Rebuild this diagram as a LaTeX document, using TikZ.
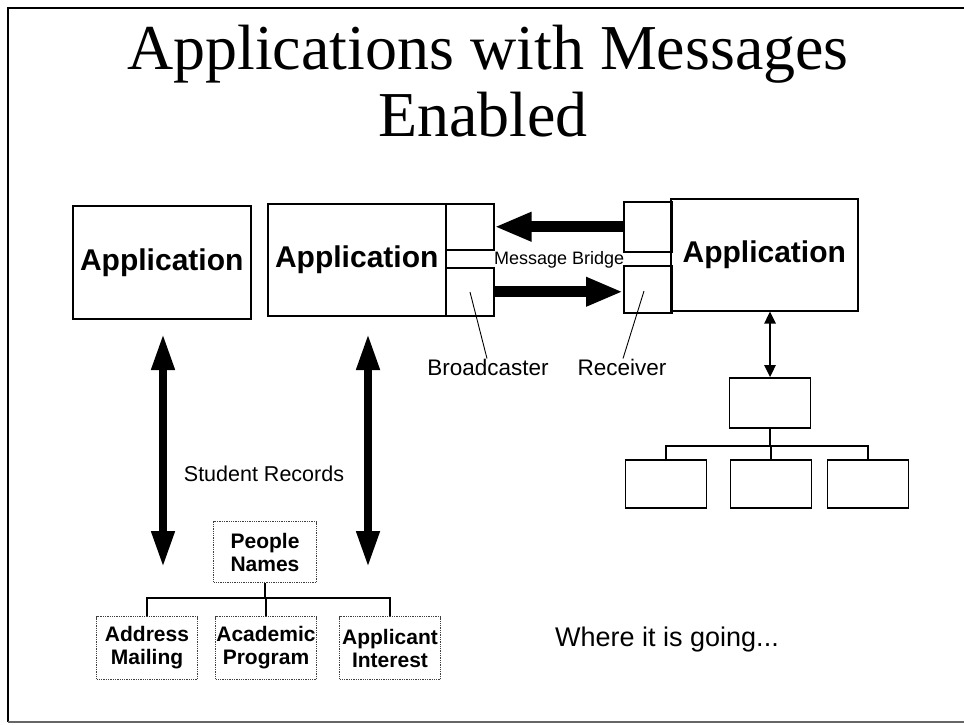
\documentclass[tikz,border=0pt]{standalone}
\usepackage{fontspec}
\setsansfont{Liberation Sans}
\newfontfamily\titlefont{Liberation Serif}
\usetikzlibrary{arrows.meta}
\tikzset{
  appbox/.style={draw, line width=1.5pt, inner sep=0pt},
  apptext/.style={font=\sffamily\bfseries\fontsize{30}{33}\selectfont},
  colbox/.style={draw, line width=1.5pt, minimum width=48pt, inner sep=0pt},
  dotbox/.style={draw=black!75, densely dotted, line width=1.3pt, minimum width=101pt, minimum height=63pt, align=center, inner sep=0pt, font=\sffamily\bfseries\fontsize{21}{23}\selectfont},
  plainbox/.style={draw, line width=1.6pt, minimum width=81pt, minimum height=48pt, inner sep=0pt},
  label/.style={font=\sffamily\fontsize{22.5}{25}\selectfont, inner sep=0pt},
  bigarrow/.style={line width=11pt, -{Triangle[length=37pt,width=27pt]}},
  dblarrow/.style={line width=7.5pt, {Triangle[length=36pt,width=22pt]}-{Triangle[length=36pt,width=22pt]}},
  smallarrow/.style={line width=2.5pt, {Triangle[length=12pt,width=11pt]}-{Triangle[length=12pt,width=11pt]}},
  tree/.style={line width=1.2pt},
  leader/.style={line width=0.9pt}
}
\begin{document}
\begin{tikzpicture}[x=1pt,y=-1pt]
\useasboundingbox (0,0) rectangle (964,724);
% slide frame
\draw[line width=2.2pt] (964,8) -- (8,8) -- (8,722);
\draw[line width=2pt, black!60] (8,722) -- (964,722);
% title
\node[anchor=base, font=\titlefont\fontsize{64}{70}\selectfont, inner sep=0pt] (t1) at (488,69) {Applications with Messages};
\node[anchor=base, font=\titlefont\fontsize{64}{70}\selectfont, inner sep=0pt] (t2) at (483,136) {Enabled};
% application boxes
\node[appbox, minimum width=178pt, minimum height=113pt, anchor=north west] (app1) at (72,205) {};
\node[apptext] at (app1.center) {Application};
\node[appbox, minimum width=178pt, minimum height=112pt, anchor=north west] (app2) at (267,203) {};
\node[apptext] at (app2.center) {Application};
\node[colbox, minimum height=46pt, anchor=north west] (c1t) at (445,203) {};
\node[colbox, minimum height=48pt, anchor=north west] (c1b) at (445,267) {};
\node[colbox, minimum height=50pt, anchor=north west] (c2t) at (623,201) {};
\node[colbox, minimum height=47pt, anchor=north west] (c2b) at (623,265) {};
\node[appbox, minimum width=187pt, minimum height=112pt, anchor=north west] (app3) at (670,198) {};
\node[apptext] at (app3.center) {Application};
% message bridge
\node[anchor=base west, inner sep=0pt, font=\sffamily\fontsize{18}{20}\selectfont] (mb) at (494,264) {Message Bridge};
\draw[bigarrow] (c2t.west) -- (c1t.east);
\draw[bigarrow] (c1b.east) -- (c1b.east -| c2b.west);
% broadcaster / receiver
\node[label] (bc) at (488,367) {Broadcaster};
\node[label] (rc) at (622,367) {Receiver};
\coordinate (bcin) at (470,292);
\coordinate (rcin) at (644,291);
\draw[leader] (bcin) -- (bc.north -| 487,0);
\draw[leader] (rcin) -- (rc.north -| 623,0);
% student records arrows
\coordinate (la1) at (163,334);
\coordinate (la2) at (163,567);
\coordinate (ra1) at (368,334);
\coordinate (ra2) at (368,567);
\draw[dblarrow] (la1) -- (la2);
\draw[dblarrow] (ra1) -- (ra2);
\node[label, font=\sffamily\fontsize{21.5}{24}\selectfont] (sr) at (264,474) {Student Records};
% left tree
\node[dotbox, minimum width=103pt, minimum height=61pt] (pn) at (265,552) {People\\Names};
\node[dotbox] (am) at (147,648) {Address\\Mailing};
\node[dotbox] (ap) at (266,648) {Academic\\Program};
\node[dotbox] (ai) at (390,648) {Applicant\\Interest};
\coordinate (lbus) at (265,598);
\draw[tree] (pn.south) -- (lbus);
\draw[tree] (am.north) |- (lbus) -| (ai.north);
\draw[tree] (lbus) -| (ap.north);
% where it is going
\node[font=\sffamily\fontsize{27}{30}\selectfont, anchor=west, inner sep=0pt] (wg) at (555,640) {Where it is going...};
% right tree
\node[plainbox, minimum height=50pt] (rt) at (770,403) {};
\draw[smallarrow] (app3.south -| rt.north) -- (rt.north);
\node[plainbox] (r1) at (666,484) {};
\node[plainbox] (r2) at (771,484) {};
\node[plainbox] (r3) at (868,484) {};
\coordinate (rbus) at (770,446);
\draw[tree] (rt.south) -- (rbus);
\draw[tree] (r1.north) |- (rbus) -| (r3.north);
\draw[tree] (rbus) -| (r2.north);
\end{tikzpicture}
\end{document}
